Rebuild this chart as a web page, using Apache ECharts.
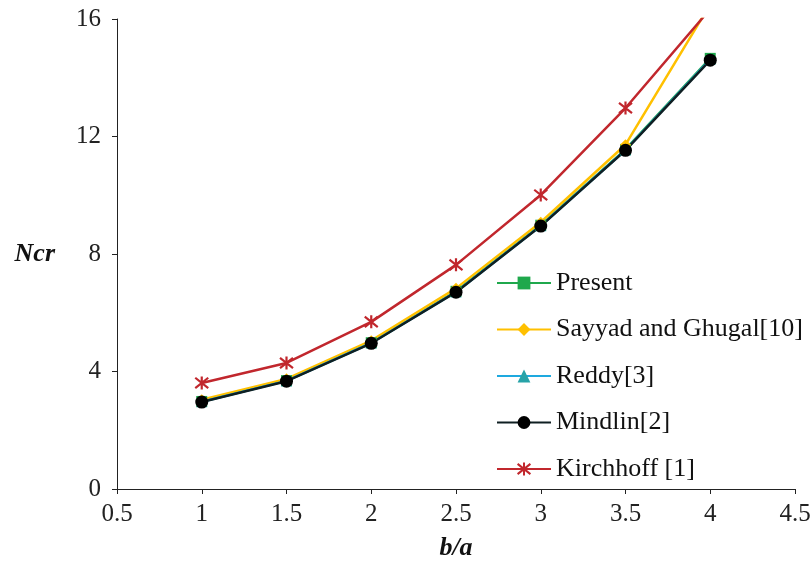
<!DOCTYPE html>
<html>
<head>
<meta charset="utf-8">
<style>
  html, body { margin: 0; padding: 0; background: #fff; }
  #chart { width: 812px; height: 561px; }
</style>
<script src="https://cdn.jsdelivr.net/npm/echarts@6/dist/echarts.min.js"></script>
</head>
<body>
<div id="chart"></div>
<script>
// b/a ratios
const ratios = [1, 1.5, 2, 2.5, 3, 3.5, 4]
// critical buckling load Ncr
const present = [2.98, 3.69, 4.98, 6.73, 8.98, 11.56, 14.66]
const sayyad = [3.04, 3.75, 5.05, 6.83, 9.08, 11.72, 16.5]
const reddy = [2.97, 3.68, 4.97, 6.71, 8.96, 11.54, 14.63]
const mindlin = [2.96, 3.67, 4.96, 6.70, 8.95, 11.53, 14.6]
const kirchhoff = [3.61, 4.29, 5.69, 7.63, 10.01, 12.97, 16.34]

const seriesNames = ['Present', 'Sayyad and Ghugal[10]', 'Reddy[3]', 'Mindlin[2]', 'Kirchhoff [1]']

const font = 'Liberation Serif, Times New Roman, serif'
const star = 'path://M5,0L5,10M1,1L9,9M1,9L9,1'

function pairs (ys) {
  return ratios.map((x, i) => [x, ys[i]])
}

function lineSeries (name, ys, color, symbol, size, markColor, extra) {
  return Object.assign({
    name: name,
    type: 'line',
    data: pairs(ys),
    symbol: symbol,
    symbolSize: size,
    lineStyle: { color: color, width: 2.5 },
    itemStyle: { color: markColor || color },
    emphasis: { disabled: true }
  }, extra || {})
}

const chart = echarts.init(document.getElementById('chart'))
const option = {
  animation: false,
  textStyle: { fontFamily: font },
  grid: { left: 117, right: 17, top: 19, bottom: 72, outerBoundsMode: 'none' },
  legend: {
    orient: 'vertical',
    left: 496,
    top: 270,
    padding: 0,
    data: seriesNames,
    itemWidth: 54,
    itemHeight: 16,
    itemGap: 20.5,
    textStyle: { fontFamily: font, fontSize: 26, color: '#111', lineHeight: 26 }
  },
  xAxis: {
    type: 'value',
    min: 0.5,
    max: 4.5,
    interval: 0.5,
    name: 'b/a',
    nameLocation: 'middle',
    nameGap: 46,
    nameMoveOverlap: false,
    nameTextStyle: { fontFamily: font, fontSize: 26, fontWeight: 'bold', fontStyle: 'italic', color: '#111' },
    axisLine: { lineStyle: { color: '#222', width: 1 } },
    axisTick: { show: true, length: 5, lineStyle: { color: '#222' } },
    axisLabel: { fontFamily: font, fontSize: 25, color: '#222', margin: 13 },
    splitLine: { show: false }
  },
  yAxis: {
    type: 'value',
    min: 0,
    max: 16,
    interval: 4,
    name: 'Ncr',
    nameLocation: 'middle',
    nameRotate: 0,
    nameGap: 62,
    nameMoveOverlap: false,
    nameTextStyle: { fontFamily: font, fontSize: 26, fontWeight: 'bold', fontStyle: 'italic', color: '#111' },
    axisLine: { show: true, lineStyle: { color: '#222', width: 1 } },
    axisTick: { show: true, length: 5, lineStyle: { color: '#222' } },
    axisLabel: { fontFamily: font, fontSize: 25, color: '#222', margin: 16 },
    splitLine: { show: false }
  },
  series: [
    lineSeries(seriesNames[0], present, '#1fa84c', 'rect', 11),
    lineSeries(seriesNames[1], sayyad, '#ffc000', 'diamond', 11),
    lineSeries(seriesNames[2], reddy, '#1ea9df', 'triangle', 11, '#27a3a8'),
    lineSeries(seriesNames[3], mindlin, '#0f1f22', 'circle', 13, '#000'),
    lineSeries(seriesNames[4], kirchhoff, '#c1272d', star, 13, '#c1272d', {
      itemStyle: { color: '#c1272d', borderColor: '#c1272d', borderWidth: 2.2 }
    })
  ]
}
chart.setOption(option)
</script>
</body>
</html>
